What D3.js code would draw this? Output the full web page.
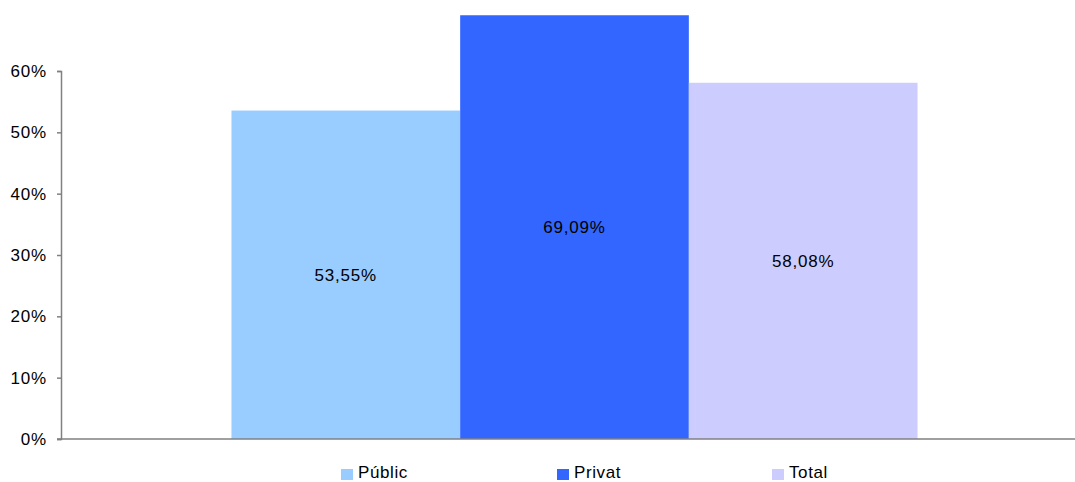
<!DOCTYPE html>
<html><head><meta charset="utf-8">
<script src="https://cdn.jsdelivr.net/npm/d3@7"></script>
<style>body{margin:0;background:#fff}svg{display:block}text{font-family:"Liberation Sans",Arial,sans-serif}</style>
</head><body><svg id="c" width="1075" height="482"></svg>
<script>
const categories = [""];
const seriesNames = ["Públic", "Privat", "Total"];
const seriesValues = [53.55, 69.09, 58.08];
const seriesLabels = ["53,55%", "69,09%", "58,08%"];
const seriesColors = ["#99CCFF", "#3366FF", "#CCCCFF"];
const yTicks = [0, 10, 20, 30, 40, 50, 60];

const svg = d3.select("#c");
const left = 61, right = 1088, bottom = 439, top60 = 71;
const y = d3.scaleLinear().domain([0, 60]).range([bottom, top60]);
const x0 = d3.scaleBand().domain(categories).range([left, right]).paddingInner(0).paddingOuter(0.2485);
const x1 = d3.scaleBand().domain(seriesNames).range([0, x0.bandwidth()]);

// bars
const g = svg.append("g").attr("transform", `translate(${x0(categories[0])},0)`);
seriesNames.forEach((s, i) => {
  g.append("rect").attr("x", x1(s)).attr("width", x1.bandwidth())
    .attr("y", y(seriesValues[i])).attr("height", bottom - y(seriesValues[i]))
    .attr("fill", seriesColors[i]);
  g.append("text").attr("x", x1(s) + x1.bandwidth() / 2)
    .attr("y", (y(seriesValues[i]) + bottom) / 2).attr("dy", "0.35em")
    .attr("text-anchor", "middle").attr("font-size", 17).attr("letter-spacing", 0.8).attr("fill", "#000")
    .text(seriesLabels[i]);
});

// y axis
const yAxis = d3.axisLeft(y).tickValues(yTicks).tickFormat(d => d + "%").tickSize(4).tickPadding(10);
const ya = svg.append("g").attr("transform", `translate(${left},0)`).call(yAxis);
ya.select(".domain").attr("stroke", "#808080").attr("stroke-width", 1.5);
ya.selectAll(".tick line").attr("stroke", "#808080").attr("stroke-width", 1.5);
ya.selectAll(".tick text").attr("font-size", 17).attr("letter-spacing", 0.8).attr("fill", "#000").attr("font-family", "Liberation Sans, Arial, sans-serif");

// x axis line
svg.append("line").attr("x1", left - 4).attr("x2", right).attr("y1", bottom).attr("y2", bottom)
  .attr("stroke", "#808080").attr("stroke-width", 1.5);

// legend
const legendX = [341, 557, 772];
seriesNames.forEach((s, i) => {
  svg.append("rect").attr("x", legendX[i]).attr("y", 469).attr("width", 12).attr("height", 11).attr("fill", seriesColors[i]);
  svg.append("text").attr("x", legendX[i] + 17).attr("y", 478).attr("font-size", 17).attr("letter-spacing", 0.6).attr("fill", "#000").text(s);
});
</script></body></html>
